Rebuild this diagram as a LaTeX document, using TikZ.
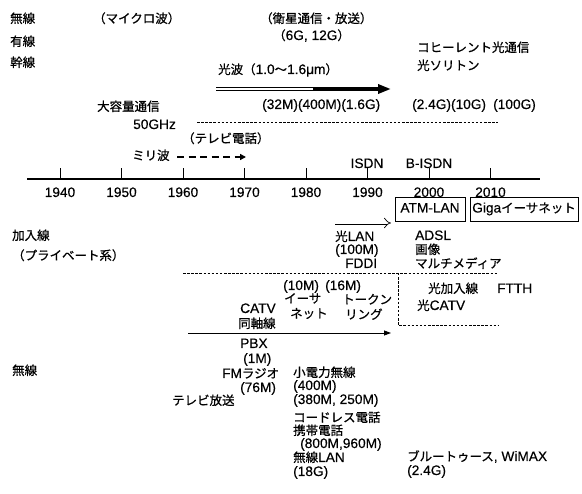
\documentclass[tikz,border=0pt]{standalone}
\usepackage{fontspec}
\setmainfont{Liberation Sans}[FakeBold=0.35]
\newfontfamily\jpfont[Scale=0.91, FakeBold=0.7]{Noto Sans CJK JP}
\newcommand\jtxt[1]{{\jpfont #1}}
\usetikzlibrary{arrows.meta}
\begin{document}
\begin{tikzpicture}[x=1pt,y=-1pt,
  every node/.style={inner sep=0pt, font=\fontsize{13.7pt}{14pt}\selectfont},
  lbl/.style={anchor=base west},
  clbl/.style={anchor=base},
  fine dash/.style={line width=0.8pt, dash pattern=on 2.5pt off 1.6pt},
  boxlbl/.style={draw, line width=0.9pt, text height=10pt, text depth=3pt, minimum height=24pt}]
\useasboundingbox (0,0) rectangle (582,494);

% left category labels
\node[lbl] (musen1) at (10,23) {\jtxt{無線}};
\node[lbl] (yusen) at (10,46) {\jtxt{有線}};
\node[lbl] (kansen) at (10,67) {\jtxt{幹線}};
\node[lbl] (kanyu) at (12,240) {\jtxt{加入線}};
\node[lbl] (private) at (12,260) {\jtxt{（プライベート系）}};
\node[lbl] (musen2) at (12,375) {\jtxt{無線}};

% trunk line
\node[lbl] (micro) at (93,23) {\jtxt{（マイクロ波）}};
\node[lbl] (eisei) at (260,23) {\jtxt{（衛星通信・放送）}};
\node[lbl] (sixg) at (273,40) {\jtxt{（}6G, 12G\jtxt{）}};
\node[lbl] (coh) at (417,52) {\jtxt{コヒーレント光通信}};
\node[lbl] (soliton) at (417,70) {\jtxt{光ソリトン}};
\node[lbl] (kouha) at (218,74) {\jtxt{光波（}1.0\jtxt{～}1.6μm\jtxt{）}};

\coordinate (ka) at (216,89);
\coordinate (kb) at (313,89);
\coordinate (kc) at (391,89);
\draw[double, double distance=2.4pt, line width=0.7pt] (ka) -- (kb);
\draw[line width=4.5pt, -{Triangle[length=13pt,width=9pt]}] ([xshift=-0.5pt]kb) -- (kc);

\node[lbl] (rates1) at (262,109) {(32M)(400M)(1.6G)};
\node[lbl] (rates2) at (412,109) {(2.4G)(10G)};
\node[lbl] (rates3) at (493,109) {(100G)};
\node[lbl] (daiyo) at (97,111) {\jtxt{大容量通信}};
\node[lbl] (ghz) at (133,129) {50GHz};
\coordinate (d1a) at (197,122);
\coordinate (d1b) at (498,122);
\draw[fine dash] (d1a) -- (d1b);
\node[lbl] (tvphone) at (182,143) {\jtxt{（テレビ電話）}};
\node[lbl] (miri) at (132,160) {\jtxt{ミリ波}};
\coordinate (ma) at (177,157);
\coordinate (mb) at (246,157);
\draw[line width=1.8pt, dash pattern=on 7pt off 4.5pt, -{Triangle[length=6pt,width=6pt]}] (ma) -- (mb);

% time axis
\coordinate (axL) at (27,179);
\coordinate (axR) at (540,179);
\draw[line width=1.2pt] (axL) -- (axR);
\foreach \yr [count=\i from 0] in {1940,1950,1960,1970,1980,1990,2000,2010} {
  \coordinate (t\yr) at (60+61.5*\i,179);
  \draw[line width=0.8pt] (t\yr) -- ++(0,-11);
  \node[clbl] (y\yr) at (60+61.5*\i,197) {\yr};
}
\node[clbl] (isdn) at (367,168) {ISDN};
\node[clbl] (bisdn) at (429,168) {B-ISDN};

\node[boxlbl, minimum width=70pt] (atm) at (430,209) {ATM-LAN};
\node[boxlbl, minimum width=108pt] (giga) at (524,209) {Giga\jtxt{イーサネット}};

% access line
\coordinate (la) at (335,223);
\coordinate (lb) at (391,223);
\draw[double, double distance=3pt, line width=0.7pt, -{Implies}] (la) -- (lb);
\node[lbl] (hlan) at (335,241) {\jtxt{光}LAN};
\node[lbl] (m100) at (335,254) {(100M)};
\node[lbl] (fddi) at (345,268) {FDDI};
\node[lbl] (adsl) at (415,240) {ADSL};
\node[lbl] (gazo) at (415,254) {\jtxt{画像}};
\node[lbl] (multi) at (415,268) {\jtxt{マルチメディア}};

\coordinate (d2a) at (183,273);
\coordinate (d2b) at (498,273);
\draw[fine dash] (d2a) -- (d2b);
\coordinate (bx1) at (398,273);
\coordinate (bx2) at (398,325);
\coordinate (bx3) at (498,325);
\draw[fine dash] (bx1) -- (bx2) -- (bx3);
\node[lbl] (hkanyu) at (428,293) {\jtxt{光加入線}};
\node[lbl] (ftth) at (497,293) {FTTH};
\node[lbl] (hcatv) at (417,310) {\jtxt{光}CATV};

\node[lbl] (m10) at (283,290) {(10M)};
\node[lbl] (ether1) at (284,303) {\jtxt{イーサ}};
\node[lbl] (ether2) at (290,318) {\jtxt{ネット}};
\node[lbl] (m16) at (325,290) {(16M)};
\node[lbl] (token1) at (342,304) {\jtxt{トークン}};
\node[lbl] (token2) at (345,319) {\jtxt{リング}};
\node[lbl] (catv) at (240,313) {CATV};
\node[lbl] (dojiku) at (238,328) {\jtxt{同軸線}};

\coordinate (aa) at (188,333);
\coordinate (ab) at (391,333);
\draw[line width=0.8pt, -{Triangle[length=7pt,width=5pt]}] (aa) -- (ab);

\node[lbl] (pbx) at (240,348) {PBX};
\node[lbl] (m1) at (243,363) {(1M)};

% wireless
\node[lbl] (fm) at (222,378) {FM\jtxt{ラジオ}};
\node[lbl] (m76) at (240,392) {(76M)};
\node[lbl] (tv) at (172,405) {\jtxt{テレビ放送}};
\node[lbl] (shoden) at (293,377) {\jtxt{小電力無線}};
\node[lbl] (m400) at (293,390) {(400M)};
\node[lbl] (m380) at (293,404) {(380M, 250M)};
\node[lbl] (cordless) at (293,422) {\jtxt{コードレス電話}};
\node[lbl] (keitai) at (293,435) {\jtxt{携帯電話}};
\node[lbl] (m800) at (300,448) {(800M,960M)};
\node[lbl] (wlan) at (293,462) {\jtxt{無線}LAN};
\node[lbl] (g18) at (293,476) {(18G)};
\node[lbl] (bt) at (407,461) {\jtxt{ブルートゥース}, WiMAX};
\node[lbl] (g24) at (407,475) {(2.4G)};
\end{tikzpicture}
\end{document}
